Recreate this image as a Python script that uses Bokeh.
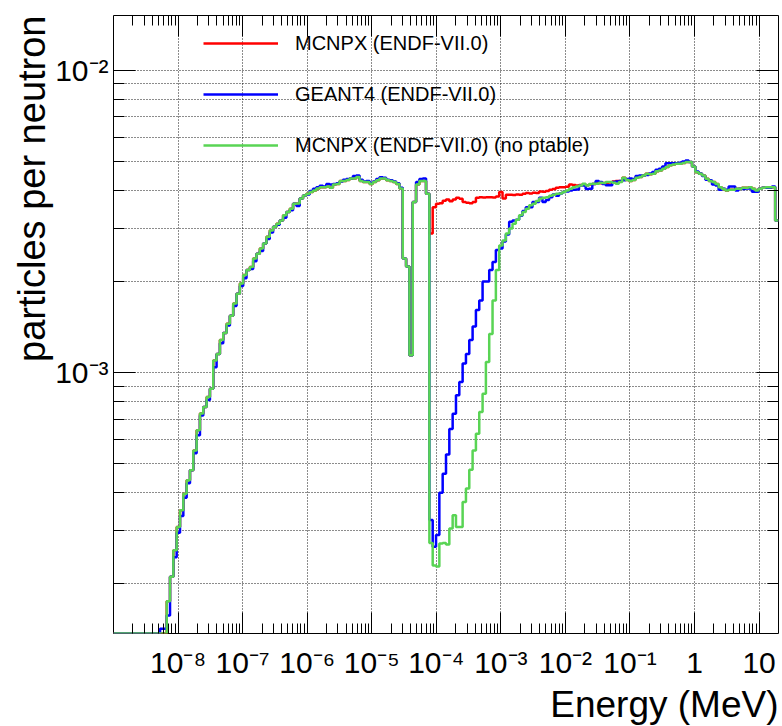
import numpy as np
from bokeh.plotting import figure
from bokeh.models import FixedTicker, LogAxis, Legend, LegendItem, Range1d, Title
from bokeh.embed import file_html
from bokeh.resources import INLINE

# ---------------- data ----------------
E_MIN, E_MAX, N_BINS = 1e-9, 20.0, 200          # 200 log-spaced energy bins (MeV)
Y_MIN, Y_MAX = 1.37e-4, 1.515e-2

# bin contents in units of 1e-3 particles per neutron
green_e3 = [0]*16 + [
    0.175, 0.211, 0.258, 0.308, 0.350, 0.397, 0.440, 0.475, 0.552, 0.644, 0.731, 0.769, 0.830, 0.884,
    1.096, 1.15, 1.28, 1.35, 1.45, 1.54, 1.69, 1.82, 1.97, 2.10,
    2.18, 2.23, 2.38, 2.47, 2.57, 2.67, 2.81, 2.95, 3.03, 3.10,
    3.18, 3.31, 3.39, 3.48, 3.61, 3.62, 3.76, 3.85, 3.90, 3.95,
    4.00, 4.06, 4.10, 4.10, 4.12, 4.08, 4.18, 4.20, 4.30, 4.30,
    4.33, 4.38, 4.38, 4.43, 4.30, 4.26, 4.26, 4.20, 4.26, 4.32,
    4.38, 4.38, 4.32, 4.30, 4.26, 4.20, 4.06, 2.38, 2.24, 1.14,
    3.66, 4.18, 4.30, 4.30, 3.90, 0.273, 0.230, 0.228, 0.272, 0.273,
    0.270, 0.305, 0.337, 0.308, 0.308, 0.373, 0.413, 0.477, 0.552, 0.627,
    0.740, 0.851, 1.082, 1.34, 1.73, 2.18, 2.63, 2.73, 2.88, 2.99,
    3.10, 3.20, 3.31, 3.39, 3.48, 3.57, 3.61, 3.69, 3.76, 3.78,
    3.80, 3.84, 3.87, 3.90, 3.91, 3.95, 4.00, 4.05, 4.10, 4.12,
    4.15, 4.21, 4.15, 4.20, 4.21, 4.21, 4.24, 4.23, 4.26, 4.26,
    4.24, 4.21, 4.26, 4.40, 4.33, 4.30, 4.33, 4.40, 4.43, 4.48,
    4.54, 4.52, 4.54, 4.63, 4.65, 4.72, 4.78, 4.84, 4.87, 4.90,
    4.90, 4.93, 4.97, 4.97, 4.80, 4.59, 4.54, 4.48, 4.37, 4.30,
    4.26, 4.20, 4.10, 4.04, 4.00, 4.02, 4.02, 4.05, 4.05, 4.08,
    4.08, 4.10, 4.05, 4.00, 4.05, 4.08, 4.10, 4.10, 4.10, 3.18,
]

blue_e3 = [0]*14 + [0.142, 0.142] + [
    0.157, 0.211, 0.245, 0.295, 0.335, 0.385, 0.430, 0.475, 0.540, 0.620, 0.720, 0.769, 0.810, 0.884,
    1.04, 1.15, 1.25, 1.35, 1.43, 1.54, 1.66, 1.82, 1.93, 2.05,
    2.18, 2.20, 2.33, 2.47, 2.52, 2.67, 2.76, 2.90, 3.03, 3.08,
    3.18, 3.25, 3.39, 3.44, 3.61, 3.55, 3.76, 3.85, 3.88, 3.98,
    4.05, 4.10, 4.14, 4.12, 4.20, 4.18, 4.20, 4.22, 4.28, 4.34,
    4.36, 4.38, 4.46, 4.48, 4.34, 4.28, 4.30, 4.24, 4.28, 4.36,
    4.42, 4.40, 4.34, 4.32, 4.28, 4.22, 4.08, 2.38, 2.24, 1.14,
    3.66, 4.26, 4.36, 4.38, 3.90, 0.325, 0.265, 0.290, 0.400, 0.462,
    0.535, 0.650, 0.730, 0.840, 0.930, 1.07, 1.15, 1.28, 1.42, 1.61,
    1.73, 2.00, 2.00, 2.18, 2.32, 2.54, 2.57, 2.71, 2.86, 3.15,
    3.18, 3.20, 3.30, 3.42, 3.52, 3.52, 3.66, 3.66, 3.78, 3.66,
    3.72, 3.80, 3.88, 3.84, 3.91, 3.95, 3.97, 4.00, 4.02, 4.03,
    4.15, 4.15, 4.04, 4.05, 4.20, 4.30, 4.26, 4.20, 4.16, 4.16,
    4.26, 4.28, 4.30, 4.32, 4.36, 4.38, 4.36, 4.46, 4.48, 4.48,
    4.50, 4.55, 4.60, 4.68, 4.72, 4.80, 4.92, 4.92, 4.92, 4.92,
    4.94, 4.98, 5.02, 4.97, 4.80, 4.62, 4.55, 4.46, 4.34, 4.32,
    4.18, 4.15, 4.02, 4.05, 4.02, 4.12, 4.12, 4.00, 4.05, 4.04,
    4.06, 4.06, 3.96, 3.96, 4.05, 4.08, 4.08, 4.08, 4.12, 3.18,
]

red_e3 = [0]*16 + [
    0.175, 0.211, 0.258, 0.308, 0.350, 0.397, 0.440, 0.475, 0.552, 0.644, 0.731, 0.769, 0.830, 0.884,
    1.096, 1.15, 1.28, 1.35, 1.45, 1.54, 1.69, 1.82, 1.97, 2.10,
    2.18, 2.23, 2.38, 2.47, 2.57, 2.67, 2.81, 2.95, 3.03, 3.10,
    3.18, 3.31, 3.39, 3.48, 3.61, 3.62, 3.76, 3.85, 3.90, 3.95,
    4.00, 4.06, 4.10, 4.10, 4.12, 4.08, 4.18, 4.20, 4.30, 4.30,
    4.33, 4.38, 4.38, 4.43, 4.30, 4.26, 4.26, 4.20, 4.26, 4.32,
    4.38, 4.38, 4.32, 4.30, 4.26, 4.20, 4.06, 2.38, 2.24, 1.14,
    3.66, 4.18, 4.30, 4.30, 3.90, 2.88, 3.52, 3.61, 3.63, 3.70,
    3.73, 3.68, 3.73, 3.78, 3.75, 3.66, 3.64, 3.63, 3.66, 3.78,
    3.80, 3.79, 3.80, 3.80, 3.79, 3.82, 3.95, 3.76, 3.87, 3.87,
    3.86, 3.88, 3.87, 3.90, 3.92, 3.91, 3.93, 3.92, 3.97, 3.96,
    3.98, 4.02, 4.04, 4.08, 4.10, 4.10, 4.11, 4.18, 4.17, 4.15,
    4.17, 4.18, 4.16, 4.18, 4.20, 4.22, 4.22, 4.23, 4.24, 4.25,
    4.28, 4.30, 4.30, 4.40, 4.33, 4.30, 4.33, 4.40, 4.43, 4.48,
    4.54, 4.52, 4.54, 4.63, 4.65, 4.72, 4.78, 4.84, 4.87, 4.90,
    4.90, 4.93, 4.97, 4.97, 4.80, 4.59, 4.54, 4.48, 4.37, 4.30,
    4.26, 4.20, 4.10, 4.04, 4.00, 4.02, 4.02, 4.05, 4.05, 4.08,
    4.08, 4.10, 4.05, 4.00, 4.05, 4.08, 4.10, 4.10, 4.10, 3.18,
]

series_labels = ["MCNPX (ENDF-VII.0)", "GEANT4 (ENDF-VII.0)", "MCNPX (ENDF-VII.0) (no ptable)"]
series_colors = ["#ff0000", "#0000ff", "#59d454"]

x_major = [1e-8, 1e-7, 1e-6, 1e-5, 1e-4, 1e-3, 1e-2, 1e-1, 1.0, 10.0]
x_labels = ["10⁻⁸", "10⁻⁷", "10⁻⁶", "10⁻⁵", "10⁻⁴", "10⁻³", "10⁻²", "10⁻¹", "1", "10"]
y_major = [1e-3, 1e-2]
y_labels = ["10⁻³", "10⁻²"]
x_title = "Energy (MeV)"
y_title = "particles per neutron"

# ---------------- figure ----------------
FONT = "Liberation Sans"
edges = np.logspace(np.log10(E_MIN), np.log10(E_MAX), N_BINS + 1)
x_minor = [m * 10.0 ** k for k in range(-9, 2) for m in range(2, 10) if m * 10.0 ** k < E_MAX]
y_minor = [m * 10.0 ** k for k in (-4, -3, -2) for m in range(2, 10) if Y_MIN < m * 10.0 ** k < Y_MAX]

p = figure(width=782, height=726, x_axis_type="log", y_axis_type="log",
           x_range=Range1d(E_MIN, E_MAX), y_range=Range1d(Y_MIN, Y_MAX),
           output_backend="svg", toolbar_location=None,
           min_border_left=113, min_border_right=4, min_border_top=15, min_border_bottom=93)
p.background_fill_color = "white"
p.border_fill_color = "white"
p.outline_line_color = "black"
p.outline_line_width = 1

xt = FixedTicker(ticks=x_major, minor_ticks=x_minor)
yt = FixedTicker(ticks=y_major, minor_ticks=y_minor)


def style_axis(ax, ticker, major_len, minor_len, overrides, font_size):
    ax.ticker = ticker
    ax.axis_line_color = None
    ax.major_tick_in = major_len
    ax.major_tick_out = 0
    ax.minor_tick_in = minor_len
    ax.minor_tick_out = 0
    ax.major_tick_line_color = "black"
    ax.minor_tick_line_color = "black"
    ax.major_tick_line_width = 1
    ax.minor_tick_line_width = 1
    ax.axis_label = None
    ax.major_label_overrides = overrides
    ax.major_label_text_font = FONT
    ax.major_label_text_font_size = font_size
    ax.major_label_text_color = "black"


style_axis(p.xaxis[0], xt, 21, 10, dict(zip(x_major, x_labels)), "30px")
p.xaxis[0].major_label_standoff = 12
style_axis(p.yaxis[0], yt, 22, 11, dict(zip(y_major, y_labels)), "30px")
p.yaxis[0].major_label_standoff = 5
p.yaxis[0].major_label_orientation = "horizontal"

# mirrored tick marks on the top and right frame edges (no labels)
top_axis = LogAxis()
style_axis(top_axis, xt, 21, 10, {t: "" for t in x_major}, "1px")
top_axis.major_label_standoff = 0
top_axis.major_label_text_alpha = 0
p.add_layout(top_axis, "above")
right_axis = LogAxis()
style_axis(right_axis, yt, 22, 11, {t: "" for t in y_major}, "1px")
right_axis.major_label_standoff = 0
right_axis.major_label_text_alpha = 0
p.add_layout(right_axis, "right")

for g in (p.xgrid[0], p.ygrid[0]):
    g.grid_line_color = "black"
    g.grid_line_dash = "1 2"
    g.grid_line_width = 1
    g.grid_line_alpha = 0.9
p.xgrid[0].ticker = FixedTicker(ticks=x_major)
p.ygrid[0].ticker = yt
p.ygrid[0].minor_grid_line_color = "black"
p.ygrid[0].minor_grid_line_dash = "1 2"
p.ygrid[0].minor_grid_line_width = 1
p.ygrid[0].minor_grid_line_alpha = 0.9

items = []
for vals_e3, lab, col in zip([red_e3, blue_e3, green_e3], series_labels, series_colors):
    vals = np.array(vals_e3, dtype=float) * 1e-3
    yplot = np.maximum(vals, Y_MIN)          # empty bins drawn on the frame bottom
    r = p.step(x=edges, y=np.append(yplot, yplot[-1]), mode="after",
               line_color=col, line_width=2.5)
    items.append(LegendItem(label=lab, renderers=[r]))

legend = Legend(items=items, location=(90, 476), orientation="vertical",
                background_fill_alpha=0, border_line_color=None,
                padding=0, margin=0, spacing=27,
                glyph_width=75, glyph_height=24, label_height=24,
                label_standoff=17, label_text_font=FONT,
                label_text_font_size="20px", label_text_color="black")
p.add_layout(legend)

p.add_layout(Title(text=x_title, align="right", text_font=FONT, text_font_size="37px",
                   text_font_style="normal", text_color="black", standoff=0), "below")
p.add_layout(Title(text=y_title, align="right", text_font=FONT, text_font_size="38px",
                   text_font_style="normal", text_color="black", standoff=0), "left")

open("out.html", "w").write(file_html(p, INLINE))
